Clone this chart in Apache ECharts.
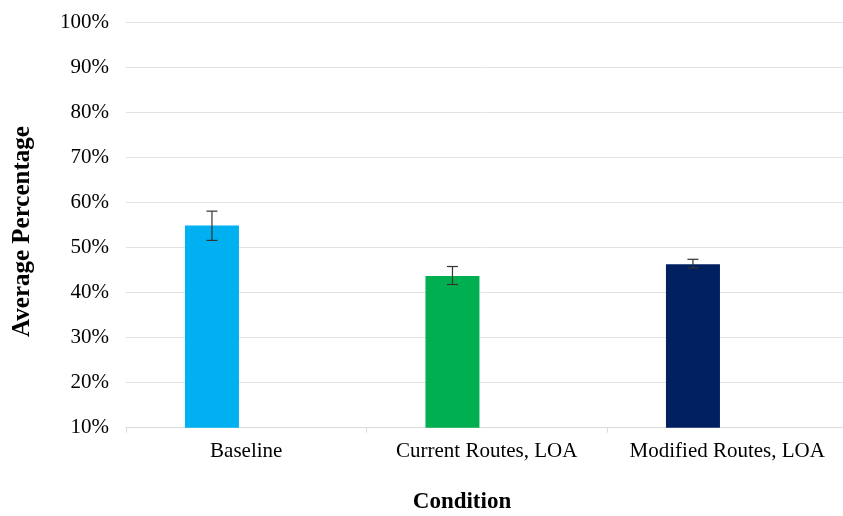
<!DOCTYPE html>
<html>
<head>
<meta charset="utf-8">
<script src="https://cdn.jsdelivr.net/npm/echarts@6/dist/echarts.min.js"></script>
<style>
html,body{margin:0;padding:0;background:#fff;overflow:hidden;}
#chart{width:852px;height:516px;}
</style>
</head>
<body>
<div id="chart"></div>
<script>
var categories = ['Baseline', 'Current Routes, LOA', 'Modified Routes, LOA'];
var averages = [54.9, 43.7, 46.3];
var errLow = [51.6, 41.8, 45.5];
var errHigh = [58.1, 45.8, 47.4];
var barColors = ['#00B0F0', '#00B050', '#002060'];
var yTicks = [10, 100, 10]; // min, max, interval
var xTitle = 'Condition';
var yTitle = 'Average Percentage';

var BAR_W = 54;
var GAP_RATIO = 0.27;
var FONT = '"Liberation Serif", "Times New Roman", serif';

var chart = echarts.init(document.getElementById('chart'), null, {renderer: 'canvas'});

var barData = averages.map(function (v, i) {
  return {value: v, itemStyle: {color: barColors[i]}};
});
var errData = averages.map(function (v, i) {
  return [i, errLow[i], errHigh[i]];
});

chart.setOption({
  animation: false,
  grid: {left: 126, width: 721.5, top: 22.5, height: 405.2, containLabel: false},
  graphic: [
    {
      type: 'text',
      x: 462, y: 502,
      style: {text: xTitle, font: 'bold 23px ' + FONT, fill: '#000', align: 'center', verticalAlign: 'middle'}
    },
    {
      type: 'text',
      x: 23, y: 231.5,
      rotation: Math.PI / 2,
      style: {text: yTitle, font: 'bold 25px ' + FONT, fill: '#000', align: 'center', verticalAlign: 'middle'}
    }
  ],
  xAxis: {
    type: 'category',
    data: categories,
    axisLine: {show: true, lineStyle: {color: '#d9d9d9', width: 1}},
    axisTick: {show: true, interval: 0, length: 5, lineStyle: {color: '#d9d9d9'}},
    axisLabel: {interval: 0, fontFamily: FONT, fontSize: 21, color: '#000', margin: 13},
    splitLine: {show: false}
  },
  yAxis: {
    type: 'value',
    min: yTicks[0],
    max: yTicks[1],
    interval: yTicks[2],
    axisLine: {show: false},
    axisTick: {show: false},
    axisLabel: {formatter: '{value}%', fontFamily: FONT, fontSize: 21, color: '#000', margin: 17},
    splitLine: {lineStyle: {color: '#e3e3e3', width: 1}}
  },
  series: [
    {
      type: 'bar',
      data: barData,
      barWidth: BAR_W,
      barGap: (GAP_RATIO * 100) + '%',
      z: 2
    },
    {
      type: 'bar',
      data: categories.map(function () { return '-'; }),
      barWidth: BAR_W
    },
    {
      type: 'custom',
      z: 5,
      data: errData,
      encode: {x: 0, y: [1, 2]},
      renderItem: function (params, api) {
        var idx = api.value(0);
        var lo = api.coord([idx, api.value(1)]);
        var hi = api.coord([idx, api.value(2)]);
        var offset = (BAR_W * (1 + GAP_RATIO)) / 2;
        var x = lo[0] - offset;
        var cap = 5.5;
        var style = {stroke: '#333', lineWidth: 1.2};
        return {
          type: 'group',
          children: [
            {type: 'line', shape: {x1: x, y1: hi[1], x2: x, y2: lo[1]}, style: style},
            {type: 'line', shape: {x1: x - cap, y1: hi[1], x2: x + cap, y2: hi[1]}, style: style},
            {type: 'line', shape: {x1: x - cap, y1: lo[1], x2: x + cap, y2: lo[1]}, style: style}
          ]
        };
      }
    }
  ]
});
</script>
</body>
</html>
